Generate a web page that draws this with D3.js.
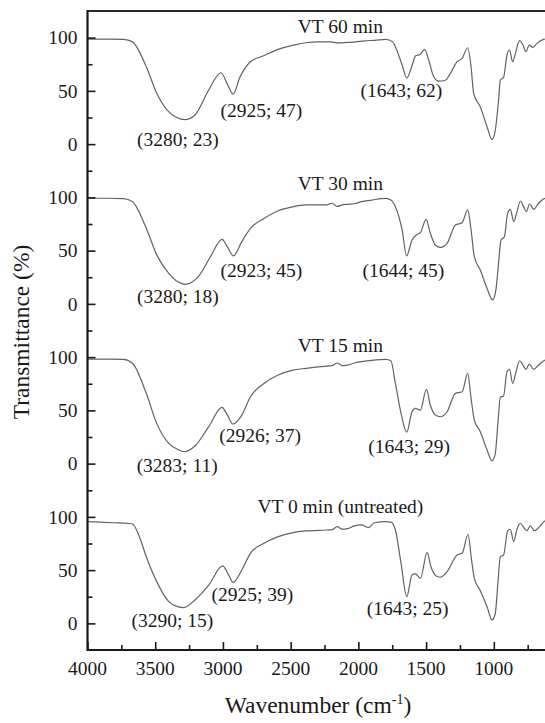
<!DOCTYPE html>
<html>
<head>
<meta charset="utf-8">
<script src="https://cdn.jsdelivr.net/npm/d3@7/dist/d3.min.js"></script>
<style>
  html, body { margin: 0; padding: 0; background: #fff; }
  svg { display: block; }
</style>
</head>
<body>
<svg id="chart" width="545" height="723"></svg>
<script>
// ---------- DATA ----------
const panelNames = ["VT 60 min", "VT 30 min", "VT 15 min", "VT 0 min (untreated)"];
const panelOffsets = [450, 300, 150, 0];
const yTickLabels = [0, 50, 100];
const yMinorTicks = [25, 75, 125];
const xMajorTicks = [4000, 3500, 3000, 2500, 2000, 1500, 1000];
const xMinorTicks = [3750, 3250, 2750, 2250, 1750, 1250, 750];

const spec60 = [[4000,98.5],[3850,98.5],[3734,98.4],[3668,96],[3566,72.7],[3489,47.7],[3412,32],[3340,25],[3280,23],[3207,27.3],[3105,50.8],[3015,67],[2970,57],[2925,47],[2874,63],[2797,77.4],[2700,83],[2592,89],[2480,93],[2387,95.2],[2300,96],[2207,96],[2150,95],[2080,95.5],[2020,96],[1951,97],[1880,97.5],[1798,98.4],[1746,96],[1727,91.5],[1677,74.3],[1643,62],[1604,73.6],[1579,82.7],[1542,84.4],[1511,89],[1481,79],[1444,63.3],[1407,59.2],[1358,60],[1321,66.5],[1271,77.4],[1234,80.5],[1193,90.5],[1168,72.7],[1149,47.7],[1100,35],[1050,16.3],[1013,4.5],[989,13.2],[965,41.4],[952,60.2],[928,62.7],[903,83.7],[884,88.4],[861,77.4],[841,85],[810,97.1],[785,93],[763,86.8],[738,93],[711,90.9],[682,94.6],[633,98.4],[600,99]];

const spec30 = [[4000,99.2],[3850,99.2],[3734,98.8],[3668,96],[3566,71],[3489,46],[3400,28.7],[3330,20.5],[3280,18.4],[3182,25.6],[3092,44.3],[3007,60.6],[2965,53],[2923,45],[2861,58.4],[2797,71],[2700,80],[2592,87.5],[2490,91],[2387,92.9],[2233,93],[2194,94.5],[2156,91.5],[2120,93],[2080,93.5],[2030,94],[1977,96],[1900,97.5],[1798,99],[1760,97.5],[1727,91.3],[1677,69.4],[1644,45],[1604,60],[1572,64.7],[1542,66.9],[1500,79.4],[1469,66.5],[1432,55.3],[1395,53.1],[1345,56.9],[1284,74],[1234,76.2],[1193,88.2],[1168,69.6],[1144,44.3],[1100,31.8],[1050,14.6],[1009,3.7],[985,13],[965,38],[947,60],[922,63],[898,85],[878,88.8],[853,77.2],[829,86.6],[804,96.6],[780,91.3],[760,86.6],[736,93.8],[706,88.8],[670,94.5],[621,99.2],[600,99.5]];

const spec15 = [[4000,98.2],[3850,98.2],[3734,97.9],[3668,94.2],[3566,66],[3489,37.8],[3400,19],[3330,13],[3283,11.2],[3207,16.5],[3105,34.7],[3007,52.9],[2965,45],[2926,37.2],[2861,45.6],[2797,62.8],[2700,75],[2592,83.2],[2490,87.5],[2387,89.5],[2233,91.6],[2194,92],[2156,94.5],[2120,92],[2080,92.5],[2030,94.5],[1977,95.7],[1900,97],[1798,97.9],[1760,96.5],[1727,75.4],[1685,47.2],[1643,29.5],[1604,48.7],[1579,51.9],[1542,50.3],[1498,69.8],[1469,55],[1432,45.6],[1395,44],[1345,48.7],[1284,66],[1234,67.5],[1193,84.8],[1168,61.3],[1144,40.9],[1100,30],[1050,12.8],[1013,2.7],[989,9.7],[970,37.8],[952,62.3],[928,63.5],[903,86.3],[884,88.5],[861,75.4],[836,86.3],[810,96.6],[785,92.6],[763,88.5],[738,93.5],[706,88.5],[670,92.6],[621,97.3],[600,98]];

const spec0 = [[4000,95.5],[3900,95],[3800,94.5],[3734,94.2],[3668,93.3],[3617,81.4],[3566,62.6],[3489,39.2],[3400,20.4],[3330,15.5],[3290,14.8],[3207,22],[3105,36],[3002,53.9],[2960,46],[2925,38.5],[2861,50.1],[2797,65.8],[2700,75],[2592,81.4],[2490,85],[2387,86.8],[2233,87.7],[2194,88],[2156,90.8],[2120,88.5],[2080,89],[2030,91.5],[1977,92.4],[1926,90],[1880,94.5],[1798,95.5],[1760,95],[1727,87.7],[1685,56.4],[1643,25.1],[1604,45.4],[1579,46.4],[1542,42.3],[1493,66.4],[1464,53.2],[1425,44.5],[1395,43.3],[1345,48.5],[1271,64.2],[1234,65.8],[1190,83.7],[1166,61.1],[1144,42.3],[1100,30.7],[1050,15.7],[1013,3.2],[989,9.5],[970,37.7],[952,62.6],[928,64.2],[898,86.8],[878,88.4],[853,76.7],[829,88.4],[804,94],[780,90.2],[755,87],[731,91.5],[701,87],[662,90.8],[621,96.4],[600,97]];

const spectra = [spec60, spec30, spec15, spec0];

// annotation texts and their anchor points [wavenumber, local T] (baseline centre)
const notes60 = [["(3280; 23)", 3333, -1.5], ["(2925; 47)", 2716, 25.8], ["(1643; 62)", 1683, 44]];
const notes30 = [["(3280; 18)", 3333, 0.5], ["(2923; 45)", 2716, 25], ["(1644; 45)", 1668, 25]];
const notes15 = [["(3283; 11)", 3338, -7.6], ["(2926; 37)", 2725, 20.6], ["(1643; 29)", 1626, 10.3]];
const notes0  = [["(3290; 15)", 3373, -3.1], ["(2925; 39)", 2782, 21.3], ["(1643; 25)", 1636, 7.9]];
const notes = [notes60, notes30, notes15, notes0];
const nameAnchors = [[2133, 104], [2133, 107], [2133, 105], [2133, 103.6]];

// ---------- LAYOUT ----------
const FONT = "'Liberation Serif', Tinos, 'Times New Roman', Times, 'DejaVu Serif', serif";
const svg = d3.select("#chart").attr("font-family", FONT);
const mLeft = 87.5, mRight = 548, mTop = 11, mBottom = 650;
const x = d3.scaleLinear().domain([4000, 600]).range([mLeft, mRight]);
const y = d3.scaleLinear().domain([-25, 575]).range([mBottom, mTop]);
const fs = 19.5;
const ink = "#1a1a1a";

svg.append("rect").attr("width", 545).attr("height", 723).attr("fill", "#fff");

// spectra
const line = d3.line().x(d => x(d[0])).y(d => y(d[1])).curve(d3.curveMonotoneX);
spectra.forEach((s, i) => {
  const off = panelOffsets[i];
  svg.append("path")
    .datum(s.map(d => [d[0], d[1] + off]))
    .attr("d", line)
    .attr("fill", "none")
    .attr("stroke", "#626262")
    .attr("stroke-width", 1.2);
});

// Y axis ticks
const yMajor = [], yMinor = [];
panelOffsets.forEach(off => {
  yTickLabels.forEach(v => yMajor.push([v + off, v]));
  yMinorTicks.forEach(v => { if (v + off < 575) yMinor.push(v + off); });
});
const yAxisG = svg.append("g").attr("transform", `translate(${mLeft},0)`);
yAxisG.call(d3.axisRight(y).tickValues(yMajor.map(d => d[0])).tickSize(8).tickFormat(""));
yAxisG.call(g => g.select(".domain").remove());
const yMinorG = svg.append("g").attr("transform", `translate(${mLeft},0)`);
yMinorG.call(d3.axisRight(y).tickValues(yMinor).tickSize(5).tickFormat(""));
yMinorG.call(g => g.select(".domain").remove());

svg.append("g").selectAll("text").data(yMajor).join("text")
  .attr("x", mLeft - 10).attr("y", d => y(d[0]))
  .attr("dy", "0.35em")
  .attr("text-anchor", "end")
  .attr("font-family", FONT).attr("fill", ink)
  .attr("font-size", fs)
  .text(d => d[1]);

// X axis
const xAxisG = svg.append("g").attr("transform", `translate(0,${mBottom})`);
xAxisG.call(d3.axisTop(x).tickValues(xMajorTicks).tickSize(8).tickFormat(""));
xAxisG.call(g => g.select(".domain").remove());
const xMinorG = svg.append("g").attr("transform", `translate(0,${mBottom})`);
xMinorG.call(d3.axisTop(x).tickValues(xMinorTicks).tickSize(5).tickFormat(""));
xMinorG.call(g => g.select(".domain").remove());
svg.selectAll(".tick line").attr("stroke", ink).attr("stroke-width", 1.6);

svg.append("g").selectAll("text").data(xMajorTicks).join("text")
  .attr("x", d => x(d)).attr("y", mBottom + 25)
  .attr("text-anchor", "middle")
  .attr("font-family", FONT).attr("fill", ink)
  .attr("font-size", fs)
  .text(d => d);

// frame lines
svg.append("line").attr("x1", mLeft).attr("x2", 545).attr("y1", mTop).attr("y2", mTop)
  .attr("stroke", "#2a2a2a").attr("stroke-width", 2.2);
svg.append("line").attr("x1", mLeft).attr("x2", mLeft).attr("y1", mTop - 1.1).attr("y2", mBottom + 1.1)
  .attr("stroke", ink).attr("stroke-width", 2.2);
svg.append("line").attr("x1", mLeft).attr("x2", 545).attr("y1", mBottom).attr("y2", mBottom)
  .attr("stroke", ink).attr("stroke-width", 2.2);

// panel names and annotations
panelNames.forEach((name, i) => {
  const off = panelOffsets[i];
  svg.append("text")
    .attr("x", x(nameAnchors[i][0])).attr("y", y(nameAnchors[i][1] + off))
    .attr("text-anchor", "middle").attr("font-size", fs)
    .attr("font-family", FONT).attr("fill", ink)
    .text(name);
  notes[i].forEach(n => {
    svg.append("text")
      .attr("x", x(n[1])).attr("y", y(n[2] + off))
      .attr("text-anchor", "middle").attr("font-size", fs)
      .attr("font-family", FONT).attr("fill", ink)
      .text(n[0]);
  });
});

// axis titles
const xt = svg.append("text").attr("x", 318).attr("y", 713)
  .attr("text-anchor", "middle").attr("font-size", 23.5)
  .attr("font-family", FONT).attr("fill", ink);
xt.append("tspan").text("Wavenumber (cm");
xt.append("tspan").attr("font-size", 14).attr("dy", -9).text("-1");
xt.append("tspan").attr("dy", 9).text(")");

svg.append("text")
  .attr("transform", "translate(29,332) rotate(-90)")
  .attr("text-anchor", "middle").attr("font-size", 23.5)
  .attr("font-family", FONT).attr("fill", ink)
  .text("Transmittance (%)");
</script>
</body>
</html>
